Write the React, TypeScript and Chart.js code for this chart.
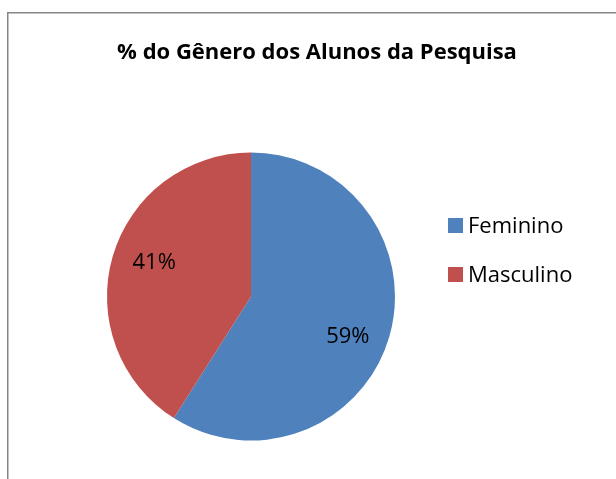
import React, { useEffect, useRef } from 'react';
import { Chart, registerables } from 'chart.js';

Chart.register(...registerables);

const title = '% do Gênero dos Alunos da Pesquisa';
const categories = ['Feminino', 'Masculino'];
const values = [59, 41];
const colors = ['#4F81BD', '#C0504D'];

const FONT = '"Open Sans", "Noto Sans", sans-serif';

const decorPlugin = {
  id: 'decor',
  beforeDraw(chart: any) {
    const ctx = chart.ctx;
    ctx.save();
    ctx.fillStyle = '#ffffff';
    ctx.fillRect(0, 0, chart.width, chart.height);
    ctx.strokeStyle = '#868686';
    ctx.lineWidth = 1.5;
    ctx.beginPath();
    ctx.moveTo(7.75, chart.height + 5);
    ctx.lineTo(7.75, 12.75);
    ctx.lineTo(chart.width + 5, 12.75);
    ctx.stroke();
    // title
    ctx.fillStyle = '#000000';
    ctx.font = `bold 22px ${FONT}`;
    ctx.textAlign = 'center';
    ctx.textBaseline = 'middle';
    ctx.fillText(title, 317, 53);
    ctx.restore();
  },
  afterDatasetsDraw(chart: any) {
    const ctx = chart.ctx;
    ctx.save();
    const meta = chart.getDatasetMeta(0);
    const data = chart.data.datasets[0].data as number[];
    ctx.font = `22px ${FONT}`;
    ctx.fillStyle = '#000000';
    ctx.textAlign = 'center';
    ctx.textBaseline = 'middle';
    meta.data.forEach((arc: any, i: number) => {
      const p = arc.getProps(['x', 'y', 'startAngle', 'endAngle', 'outerRadius'], true);
      const mid = (p.startAngle + p.endAngle) / 2 + 0.082;
      const r = p.outerRadius * 0.72;
      ctx.fillText(`${data[i]}%`, p.x + Math.cos(mid) * r, p.y + Math.sin(mid) * r + 3);
    });
    // legend
    const labels = chart.data.labels as string[];
    const bg = chart.data.datasets[0].backgroundColor as string[];
    ctx.textAlign = 'left';
    ctx.font = `22px ${FONT}`;
    labels.forEach((lab, i) => {
      const y = 225.5 + i * 49;
      ctx.fillStyle = bg[i];
      ctx.fillRect(448, y - 7.5, 15, 15);
      ctx.fillStyle = '#000000';
      ctx.fillText(lab, 468, y + 1.5);
    });
    ctx.restore();
  },
};

export default function App() {
  const ref = useRef<HTMLCanvasElement>(null);
  useEffect(() => {
    document.body.style.margin = '0';
    const chart = new Chart(ref.current as HTMLCanvasElement, {
      type: 'pie',
      data: {
        labels: categories,
        datasets: [
          {
            data: values,
            backgroundColor: colors,
            borderWidth: 0,
          },
        ],
      },
      options: {
        animation: false,
        responsive: false,
        layout: { padding: { left: 107, right: 221, top: 152.5, bottom: 38.5 } },
        plugins: {
          legend: { display: false },
          title: { display: false },
          tooltip: { enabled: false },
        },
      },
      plugins: [decorPlugin],
    });
    return () => chart.destroy();
  }, []);
  return (
    <div style={{ position: 'fixed', left: 0, top: 0, width: 616, height: 479 }}>
      <canvas ref={ref} width={616} height={479} style={{ width: 616, height: 479 }} />
    </div>
  );
}
